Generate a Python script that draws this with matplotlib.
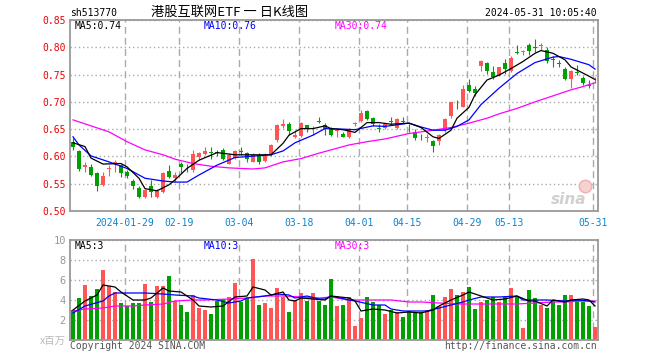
import numpy as np
import matplotlib
matplotlib.use("Agg")
import matplotlib.pyplot as plt

W, H = 660, 360
RED = "#ff5555"
GREEN = "#00a000"
GRID = "#aaaaaa"

# daily candles, 2024-01-16 .. 2024-05-31
opens = [0.626, 0.610, 0.580, 0.581, 0.570, 0.548, 0.577, 0.587, 0.584, 0.572,
         0.555, 0.543, 0.526, 0.546, 0.526, 0.535, 0.573, 0.560, 0.586, 0.583,
         0.575, 0.599, 0.604, 0.608, 0.608, 0.611, 0.587, 0.597, 0.609, 0.606,
         0.590, 0.603, 0.592, 0.603, 0.630, 0.656, 0.659, 0.636, 0.638, 0.657,
         0.650, 0.665, 0.658, 0.650, 0.647, 0.641, 0.636, 0.660, 0.665, 0.683,
         0.671, 0.652, 0.653, 0.665, 0.653, 0.664, 0.656, 0.645, 0.638, 0.634,
         0.628, 0.629, 0.648, 0.674, 0.693, 0.691, 0.731, 0.724, 0.766, 0.772,
         0.755, 0.750, 0.771, 0.757, 0.791, 0.792, 0.805, 0.800, 0.803, 0.795,
         0.778, 0.771, 0.760, 0.741, 0.754, 0.744, 0.730, 0.741]
closes = [0.618, 0.577, 0.585, 0.566, 0.546, 0.565, 0.578, 0.590, 0.569, 0.564,
          0.546, 0.526, 0.538, 0.535, 0.537, 0.570, 0.563, 0.566, 0.580, 0.582,
          0.604, 0.606, 0.610, 0.607, 0.607, 0.596, 0.603, 0.610, 0.608, 0.595,
          0.603, 0.590, 0.601, 0.621, 0.658, 0.659, 0.647, 0.639, 0.662, 0.650,
          0.653, 0.664, 0.650, 0.639, 0.648, 0.636, 0.651, 0.661, 0.680, 0.669,
          0.659, 0.651, 0.659, 0.664, 0.668, 0.663, 0.655, 0.633, 0.637, 0.635,
          0.619, 0.639, 0.669, 0.699, 0.692, 0.724, 0.720, 0.716, 0.775, 0.757,
          0.745, 0.763, 0.760, 0.781, 0.790, 0.793, 0.794, 0.799, 0.804, 0.775,
          0.777, 0.770, 0.742, 0.757, 0.753, 0.735, 0.729, 0.742]
highs = [0.633, 0.612, 0.589, 0.587, 0.572, 0.572, 0.584, 0.593, 0.586, 0.576,
         0.558, 0.546, 0.540, 0.556, 0.541, 0.572, 0.584, 0.572, 0.589, 0.587,
         0.612, 0.609, 0.618, 0.617, 0.612, 0.615, 0.606, 0.612, 0.618, 0.609,
         0.607, 0.607, 0.606, 0.623, 0.659, 0.669, 0.664, 0.648, 0.664, 0.658,
         0.656, 0.673, 0.661, 0.654, 0.651, 0.645, 0.653, 0.664, 0.685, 0.685,
         0.673, 0.659, 0.661, 0.672, 0.670, 0.672, 0.659, 0.650, 0.642, 0.642,
         0.630, 0.641, 0.670, 0.700, 0.703, 0.731, 0.741, 0.729, 0.777, 0.773,
         0.766, 0.764, 0.778, 0.784, 0.804, 0.795, 0.807, 0.815, 0.807, 0.800,
         0.784, 0.777, 0.763, 0.758, 0.768, 0.747, 0.740, 0.746]
lows = [0.612, 0.574, 0.572, 0.565, 0.537, 0.545, 0.564, 0.572, 0.563, 0.560,
        0.541, 0.523, 0.523, 0.526, 0.523, 0.533, 0.560, 0.554, 0.569, 0.572,
        0.572, 0.593, 0.603, 0.596, 0.600, 0.593, 0.586, 0.595, 0.603, 0.590,
        0.589, 0.587, 0.590, 0.601, 0.627, 0.653, 0.639, 0.633, 0.636, 0.645,
        0.639, 0.661, 0.639, 0.637, 0.636, 0.635, 0.633, 0.656, 0.664, 0.667,
        0.656, 0.644, 0.651, 0.658, 0.651, 0.661, 0.645, 0.630, 0.630, 0.627,
        0.609, 0.621, 0.644, 0.670, 0.686, 0.690, 0.718, 0.710, 0.757, 0.751,
        0.741, 0.748, 0.751, 0.754, 0.788, 0.786, 0.786, 0.792, 0.795, 0.771,
        0.764, 0.763, 0.740, 0.725, 0.749, 0.731, 0.725, 0.735]
# volume, millions
volumes = [3.0, 4.2, 5.5, 4.4, 5.1, 7.0, 5.4, 4.8, 3.7, 3.4,
           3.7, 3.7, 5.6, 3.8, 5.4, 5.4, 6.4, 3.9, 3.5, 2.8,
           4.5, 3.2, 3.0, 2.6, 3.9, 4.1, 4.3, 5.7, 3.8, 4.2,
           8.1, 3.5, 3.7, 3.2, 5.2, 4.3, 2.8, 4.0, 4.7, 3.9,
           4.7, 3.9, 3.5, 6.1, 3.4, 3.5, 4.3, 1.4, 2.2, 4.3,
           3.8, 3.5, 2.6, 3.0, 2.8, 2.3, 2.9, 2.7, 2.8, 3.0,
           4.5, 3.4, 4.3, 5.1, 4.5, 4.8, 5.3, 3.1, 3.8, 4.0,
           4.3, 3.8, 4.3, 5.2, 4.3, 1.2, 5.0, 4.2, 3.5, 3.2,
           3.9, 3.5, 4.5, 4.5, 4.1, 3.8, 3.4, 1.3]

# moving averages (bar index, value)
ma5_idx = [0, 2, 3, 5, 8, 9, 11, 12, 14, 16, 17, 19, 21, 24, 27, 33, 35, 36, 38, 40,
           42, 43, 45, 47, 49, 51, 53, 56, 58, 60, 61, 63, 64, 66, 67, 69, 71, 73, 75,
           77, 78, 80, 82, 83, 86, 87]
ma5_val = [0.625, 0.618, 0.597, 0.586, 0.587, 0.581, 0.560, 0.541, 0.537, 0.548,
           0.557, 0.578, 0.593, 0.607, 0.603, 0.603, 0.624, 0.639, 0.651, 0.651,
           0.656, 0.651, 0.649, 0.644, 0.662, 0.662, 0.659, 0.661, 0.653, 0.636,
           0.633, 0.648, 0.670, 0.690, 0.713, 0.740, 0.749, 0.761, 0.774, 0.789,
           0.794, 0.789, 0.777, 0.764, 0.747, 0.741]
ma10_idx = [0, 1, 3, 6, 9, 12, 15, 17, 19, 21, 24, 27, 33, 35, 37, 40, 42, 45, 47,
            50, 52, 56, 58, 60, 62, 64, 66, 68, 71, 74, 77, 80, 81, 83, 86, 87]
ma10_val = [0.636, 0.621, 0.601, 0.590, 0.578, 0.560, 0.555, 0.553, 0.553, 0.566,
            0.584, 0.598, 0.603, 0.610, 0.625, 0.639, 0.651, 0.650, 0.649, 0.656,
            0.655, 0.661, 0.654, 0.648, 0.648, 0.655, 0.667, 0.695, 0.725, 0.752,
            0.772, 0.782, 0.783, 0.778, 0.768, 0.760]
ma30_idx = [0, 3, 6, 9, 12, 15, 17, 20, 23, 26, 30, 32, 35, 38, 41, 44, 46, 49, 52,
            56, 60, 63, 66, 69, 71, 74, 77, 80, 83, 85, 87]
ma30_val = [0.667, 0.656, 0.645, 0.627, 0.612, 0.603, 0.595, 0.587, 0.582, 0.579,
            0.577, 0.579, 0.590, 0.596, 0.606, 0.615, 0.621, 0.627, 0.632, 0.642,
            0.648, 0.653, 0.661, 0.670, 0.678, 0.688, 0.700, 0.711, 0.722, 0.728,
            0.735]

vma5_idx = [0, 2, 4, 5, 7, 8, 10, 12, 13, 15, 16, 18, 20, 21, 23, 25, 27, 29, 30, 32,
            33, 35, 36, 37, 38, 40, 42, 43, 46, 47, 48, 50, 52, 54, 56, 58, 60, 61,
            63, 65, 66, 68, 70, 72, 74, 76, 77, 79, 80, 82, 83, 85, 86, 87]
vma5_val = [3.0, 3.9, 4.5, 5.5, 5.3, 4.8, 4.0, 4.0, 4.2, 5.2, 4.9, 4.8, 4.0, 3.4,
            3.3, 3.4, 4.3, 4.4, 5.3, 5.0, 4.5, 4.8, 4.0, 3.9, 4.2, 4.1, 4.0, 4.4,
            4.2, 3.9, 2.9, 3.1, 3.0, 2.7, 2.8, 2.7, 3.0, 3.4, 4.0, 4.5, 4.8, 4.4,
            4.0, 4.1, 4.4, 3.9, 3.9, 3.4, 4.0, 3.8, 4.0, 4.1, 4.0, 3.4]
vma10_idx = [0, 2, 5, 6, 7, 12, 15, 17, 20, 21, 24, 26, 28, 29, 32, 34, 36, 37, 39,
             41, 42, 43, 46, 47, 50, 52, 53, 55, 59, 61, 63, 65, 66, 68, 71, 74, 75,
             77, 79, 82, 84, 86, 87]
vma10_val = [2.7, 3.4, 3.9, 4.4, 4.7, 4.7, 4.6, 4.5, 4.4, 4.2, 4.0, 3.7, 3.9, 4.2,
             4.4, 4.6, 4.5, 4.2, 4.4, 4.1, 4.1, 4.4, 4.0, 3.9, 3.5, 3.5, 3.1, 2.9,
             2.9, 3.2, 3.5, 3.8, 4.0, 4.3, 4.3, 4.4, 4.0, 4.0, 4.0, 3.9, 4.0, 3.9, 3.8]
vma30_idx = [0, 2, 5, 7, 10, 12, 15, 17, 20, 22, 26, 29, 32, 35, 38, 41, 43, 46, 50,
             53, 56, 58, 61, 64, 67, 71, 74, 77, 80, 82, 85, 87]
vma30_val = [2.9, 3.1, 3.2, 3.4, 3.4, 3.5, 3.6, 3.9, 4.0, 4.0, 4.1, 4.2, 4.4, 4.4,
             4.3, 4.2, 4.3, 4.0, 4.0, 4.0, 3.8, 3.8, 3.7, 3.6, 3.6, 3.6, 3.6, 3.7,
             3.8, 3.8, 3.9, 3.9]

date_idx = [9, 18, 28, 38, 48, 56, 66, 73, 87]
date_labels = ["2024-01-29", "02-19", "03-04", "03-18", "04-01",
               "04-15", "04-29", "05-13", "05-31"]
price_ticks = [0.50, 0.55, 0.60, 0.65, 0.70, 0.75, 0.80, 0.85]
vol_ticks = [2, 4, 6, 8, 10]

plt.rcParams["font.family"] = ["DejaVu Sans Mono", "Noto Sans CJK SC"]
plt.rcParams["font.size"] = 7


def px(x, y):
    return x / W, 1 - y / H


def style_axes(ax):
    for s in ax.spines.values():
        s.set_color("#999999")
        s.set_linewidth(1.3)
    ax.set_axisbelow(True)
    ax.xaxis.grid(True, color=GRID, linestyle=(0, (5, 3)), linewidth=1.0)
    ax.yaxis.grid(True, color=GRID, linestyle=(0, (1, 2)), linewidth=1.0)
    ax.tick_params(length=0)
    ax.set_xlim(-0.5, len(opens) - 0.5)
    ax.set_xticks(np.array(date_idx) - 0.4)


fig = plt.figure(figsize=(W / 100, H / 100), dpi=100)
ax = fig.add_axes([70 / W, 1 - 211 / H, 528 / W, 191 / H])
axv = fig.add_axes([70 / W, 1 - 340 / H, 528 / W, 100 / H])

x = np.arange(len(opens))
o = np.array(opens)
c = np.array(closes)
colors = np.where(c >= o, RED, GREEN)

# candles
style_axes(ax)
ax.vlines(x, lows, highs, color=colors, linewidth=0.8, zorder=2)
ax.bar(x, np.maximum(np.abs(c - o), 0.0013), bottom=np.minimum(o, c),
       width=0.83, color=colors, zorder=3)
ax.plot(ma30_idx, ma30_val, color="#ff00ff", linewidth=0.9, zorder=4)
ax.plot(ma10_idx, ma10_val, color="#0000ff", linewidth=0.9, zorder=4)
ax.plot(ma5_idx, ma5_val, color="black", linewidth=0.9, zorder=4)
ax.set_ylim(0.50, 0.85)
ax.set_yticks(price_ticks)
ax.set_yticklabels(["%.2f" % t for t in price_ticks], color="#ee0000")
ax.tick_params(axis="y", pad=3)
ax.set_xticklabels(date_labels, color="#0a84d0")
ax.tick_params(axis="x", pad=5)

# sina watermark: eye logo above the word
ax.plot([0.975], [0.13], marker="o", markersize=9, markerfacecolor="#f8d0d0",
        markeredgecolor="#eeb0b0", transform=ax.transAxes, zorder=1)
ax.text(0.945, 0.06, "sina", transform=ax.transAxes, ha="center", va="center",
        color="#d0d0d0", fontsize=11, fontweight="bold", style="italic",
        family="DejaVu Sans", zorder=1)

# volume
style_axes(axv)
axv.bar(x, volumes, width=0.83, color=colors, zorder=2)
axv.plot(vma30_idx, vma30_val, color="#ff00ff", linewidth=0.9, zorder=3)
axv.plot(vma10_idx, vma10_val, color="#0000ff", linewidth=0.9, zorder=3)
axv.plot(vma5_idx, vma5_val, color="black", linewidth=0.9, zorder=3)
axv.set_ylim(0, 10)
axv.set_yticks(vol_ticks)
axv.set_yticklabels([str(t) for t in vol_ticks], color="#999999", fontsize=7.5)
axv.tick_params(axis="y", pad=3)
axv.set_xticklabels([])

# headings and legends
fig.text(*px(70, 13), "sh513770", ha="left", va="center", fontsize=7)
fig.text(*px(151, 12), "港股互联网ETF 一 日K线图", ha="left", va="center",
         fontsize=9.5, family=["Noto Sans CJK SC", "DejaVu Sans"])
fig.text(*px(597, 13), "2024-05-31 10:05:40", ha="right", va="center", fontsize=7)
fig.text(*px(75, 26), "MA5:0.74", ha="left", va="center", color="black")
fig.text(*px(204, 26), "MA10:0.76", ha="left", va="center", color="#0000ff")
fig.text(*px(335, 26), "MA30:0.74", ha="left", va="center", color="#ff00ff")
fig.text(*px(75, 246), "MA5:3", ha="left", va="center", color="black")
fig.text(*px(204, 246), "MA10:3", ha="left", va="center", color="#0000ff")
fig.text(*px(335, 246), "MA30:3", ha="left", va="center", color="#ff00ff")
fig.text(*px(66, 341), "x百万", ha="right", va="center", color="#bbbbbb",
         fontsize=7.5, family=["Noto Sans CJK SC", "DejaVu Sans"])
fig.text(*px(70, 346), "Copyright 2024 SINA.COM", ha="left", va="center",
         color="#555555")
fig.text(*px(597, 346), "http://finance.sina.com.cn", ha="right", va="center",
         color="#555555")

fig.savefig("out.png", dpi=100)
